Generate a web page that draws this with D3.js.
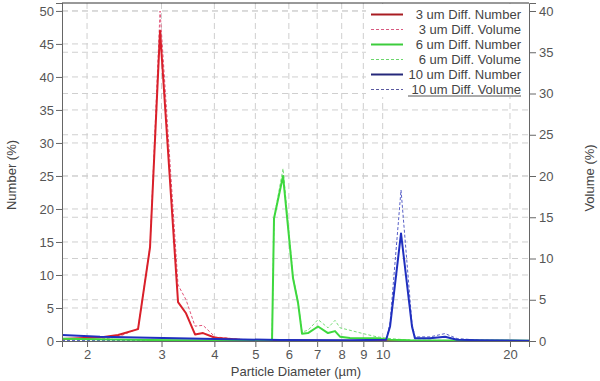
<!DOCTYPE html>
<html lang="en">
  <head>
    <meta charset="utf-8" />
    <title>Particle size distribution</title>
    <script src="https://cdnjs.cloudflare.com/ajax/libs/d3/7.8.5/d3.min.js"></script>
    <style type="text/css">
      body { margin: 0; background: #fff; }
      svg { font-family: "Liberation Sans", Arial, sans-serif; }
      .axis text { font-size: 13px; fill: #555; }
      .axis path, .axis line { stroke: #666; }
      .grid line { stroke: #cfcfcf; stroke-dasharray: 6, 4; }
      .legend text { font-size: 13px; fill: #444; }
      .title { font-size: 13px; fill: #444; }
    </style>
  </head>

  <body>
    <div id="chart"></div>

    <script>
      // Bin diameters (um) and values.
      const diam3 = [1.745, 2.147, 2.368, 2.640, 2.818, 2.976, 3.282, 3.428, 3.600, 3.761, 4.014, 4.598, 5.72, 7.51, 10.99, 22.18];
      const num3 = [0.3, 0.55, 0.9, 1.8, 14.2, 47, 5.9, 4.2, 1.0, 1.2, 0.5, 0.2, 0.1, 0.05, 0, 0];
      const vol3 = [0.1, 0.2, 0.5, 1.5, 11.4, 40, 6.8, 5.0, 1.8, 1.9, 0.5, 0.2, 0.1, 0, 0, 0];

      const diam6 = [1.745, 2.818, 4.598, 5.475, 5.535, 5.813, 6.138, 6.307, 6.446, 6.660, 7.033, 7.426, 7.714, 7.927, 8.370, 8.984, 9.701, 10.41, 11.60, 22.18];
      const num6 = [0.35, 0.15, 0.05, 0, 18.6, 25.0, 9.5, 5.8, 1.1, 1.2, 2.2, 1.2, 1.5, 0.65, 0.45, 0.4, 0.4, 0.2, 0.1, 0.05];
      const vol6 = [0.1, 0.05, 0.02, 0, 14.9, 20.9, 7.8, 4.8, 1.1, 1.3, 2.6, 1.6, 2.5, 1.6, 1.3, 0.9, 0.5, 0.3, 0.1, 0];

      const diam10 = [1.745, 2.147, 2.818, 4.014, 5.72, 8.370, 10.19, 10.41, 11.05, 11.73, 11.92, 12.94, 14.04, 14.99, 16.99, 22.18];
      const num10 = [0.9, 0.65, 0.5, 0.3, 0.15, 0.1, 0.2, 2.2, 16.3, 2.2, 0.4, 0.4, 0.65, 0.2, 0.1, 0.05];
      const vol10 = [0.05, 0.05, 0.05, 0.05, 0.05, 0.05, 0.1, 2.2, 18.3, 2.1, 0.5, 0.5, 0.9, 0.3, 0.1, 0.05];

      const xTicks = [2, 3, 4, 5, 6, 7, 8, 9, 10, 20];
      const leftTicks = [0, 5, 10, 15, 20, 25, 30, 35, 40, 45, 50];
      const rightTicks = [0, 5, 10, 15, 20, 25, 30, 35, 40];

      const outerWidth = 600;
      const outerHeight = 381;
      const plotLeft = 62, plotRight = 529, plotTop = 3, plotBottom = 341;

      const series = [
        { name: '3 um Diff. Number', x: diam3, y: num3, axis: 'left', color: '#d9202a', width: 2, dash: null, legendColor: '#a81c22' },
        { name: '3 um Diff. Volume', x: diam3, y: vol3, axis: 'right', color: '#e2557a', width: 1, dash: '3,2', legendColor: '#d85a80' },
        { name: '6 um Diff. Number', x: diam6, y: num6, axis: 'left', color: '#3ed83e', width: 2, dash: null, legendColor: '#3ccc3c' },
        { name: '6 um Diff. Volume', x: diam6, y: vol6, axis: 'right', color: '#78dd78', width: 1, dash: '3,2', legendColor: '#6cd66c' },
        { name: '10 um Diff. Number', x: diam10, y: num10, axis: 'left', color: '#1f2fbf', width: 2, dash: null, legendColor: '#25287a' },
        { name: '10 um Diff. Volume', x: diam10, y: vol10, axis: 'right', color: '#5860c8', width: 1, dash: '3,2', legendColor: '#5a5aa0' }
      ];

      const svg = d3.select('#chart').append('svg')
        .attr('width', outerWidth)
        .attr('height', outerHeight);

      // Scales
      const x = d3.scaleLog().domain([1.745, 22.18]).range([plotLeft, plotRight]);
      const yL = d3.scaleLinear().domain([0, 51.2]).range([plotBottom, plotTop]);
      const yR = d3.scaleLinear().domain([0, 40.97]).range([plotBottom, plotTop]);

      // Grid
      const grid = svg.append('g').attr('class', 'grid');
      grid.selectAll('.gx').data(xTicks).enter().append('line')
        .attr('x1', d => x(d)).attr('x2', d => x(d))
        .attr('y1', plotTop).attr('y2', plotBottom);
      grid.selectAll('.gl').data(leftTicks.slice(1)).enter().append('line')
        .attr('x1', plotLeft).attr('x2', plotRight)
        .attr('y1', d => yL(d)).attr('y2', d => yL(d));
      grid.selectAll('.gr').data(rightTicks.slice(1)).enter().append('line')
        .attr('x1', plotLeft).attr('x2', plotRight)
        .attr('y1', d => yR(d)).attr('y2', d => yR(d));

      // Legend background (hides grid under it)
      svg.append('rect')
        .attr('x', 366).attr('y', 4)
        .attr('width', plotRight - 366).attr('height', 93)
        .attr('fill', '#fff');

      // Lines
      svg.append('clipPath').attr('id', 'clip')
        .append('rect')
        .attr('x', plotLeft).attr('y', plotTop)
        .attr('width', plotRight - plotLeft).attr('height', plotBottom - plotTop);

      const plot = svg.append('g').attr('clip-path', 'url(#clip)');

      // Draw volume (dashed) first, then number on top.
      const order = [1, 3, 5, 0, 2, 4];
      order.forEach(i => {
        const s = series[i];
        const yScale = s.axis === 'left' ? yL : yR;
        const line = d3.line()
          .x(d => x(d[0]))
          .y(d => yScale(d[1]));
        plot.append('path')
          .datum(d3.zip(s.x, s.y))
          .attr('fill', 'none')
          .attr('stroke', s.color)
          .attr('stroke-width', s.width)
          .attr('stroke-dasharray', s.dash)
          .attr('stroke-linejoin', 'round')
          .attr('d', line);
      });

      // Axes
      svg.append('g')
        .attr('class', 'axis')
        .attr('transform', `translate(0, ${plotBottom})`)
        .call(d3.axisBottom(x).tickValues(xTicks).tickFormat(d3.format('d')).tickSizeOuter(0).tickSize(6).tickPadding(3));

      svg.append('g')
        .attr('class', 'axis')
        .attr('transform', `translate(${plotLeft}, 0)`)
        .call(d3.axisLeft(yL).tickValues(leftTicks).tickSizeOuter(0).tickSize(6).tickPadding(2));

      svg.append('g')
        .attr('class', 'axis')
        .attr('transform', `translate(${plotRight}, 0)`)
        .call(d3.axisRight(yR).tickValues(rightTicks).tickSizeOuter(0).tickSize(7).tickPadding(3));

      // Top border
      svg.append('line')
        .attr('x1', plotLeft).attr('x2', plotRight)
        .attr('y1', plotTop).attr('y2', plotTop)
        .attr('stroke', '#333');

      // Legend
      const legend = svg.append('g').attr('class', 'legend');
      series.forEach((s, i) => {
        const ly = 14.5 + i * 15;
        legend.append('line')
          .attr('x1', 371).attr('x2', 403)
          .attr('y1', ly).attr('y2', ly)
          .attr('stroke', s.legendColor)
          .attr('stroke-width', s.width === 2 ? 2 : 1)
          .attr('stroke-dasharray', s.dash);
        legend.append('text')
          .attr('x', 521).attr('y', ly)
          .attr('dy', '0.35em')
          .attr('text-anchor', 'end')
          .text(s.name);
      });
      legend.append('line')
        .attr('x1', 408).attr('x2', 521)
        .attr('y1', 96).attr('y2', 96)
        .attr('stroke', '#555');

      // Axis titles
      svg.append('text')
        .attr('class', 'title')
        .attr('x', 296).attr('y', 376)
        .attr('text-anchor', 'middle')
        .text('Particle Diameter (µm)');

      svg.append('text')
        .attr('class', 'title')
        .attr('transform', 'translate(16, 175) rotate(-90)')
        .attr('text-anchor', 'middle')
        .text('Number (%)');

      svg.append('text')
        .attr('class', 'title')
        .attr('transform', 'translate(594, 178) rotate(-90)')
        .attr('text-anchor', 'middle')
        .text('Volume (%)');
    </script>
  </body>
</html>
